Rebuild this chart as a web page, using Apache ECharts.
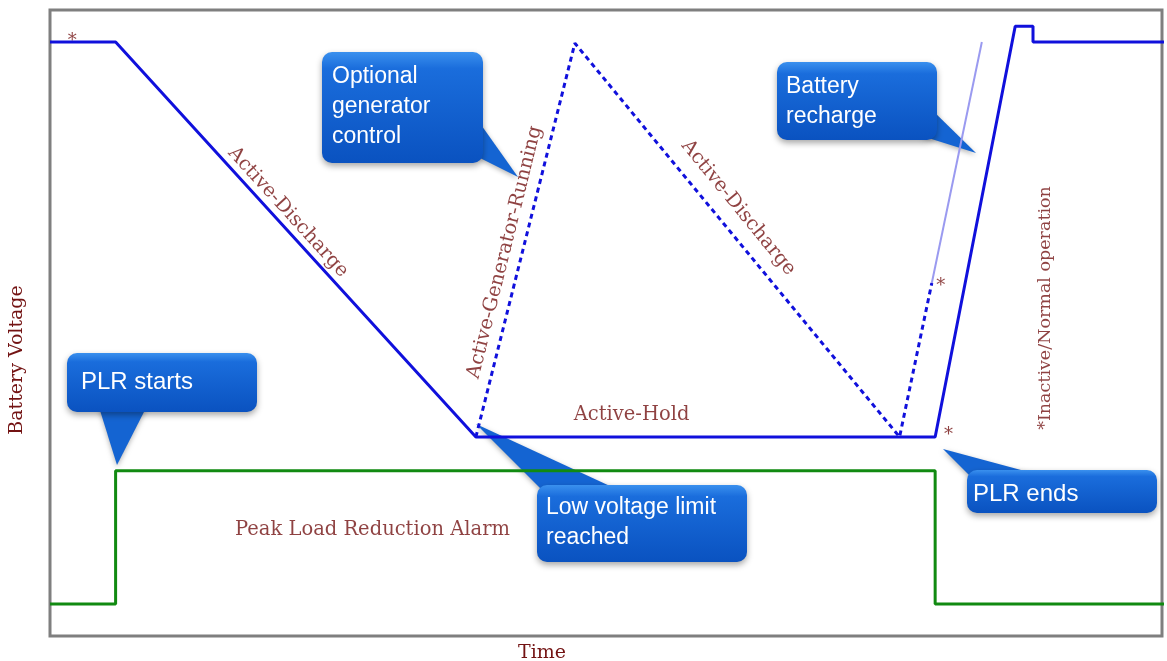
<!DOCTYPE html>
<html>
<head>
    <meta charset="utf-8">
    <title>PLR battery voltage</title>
    <script src="https://cdn.jsdelivr.net/npm/echarts@6/dist/echarts.min.js"></script>
    <style>
        html, body { margin: 0; padding: 0; background: #fff; }
        #main { width: 1167px; height: 661px; }
    </style>
</head>
<body>
<div id="main"></div>
<script type="text/javascript">
    /* data: time 0-100, battery voltage 0-100 (schematic units) */
    var voltagePath = [[0, 94.9], [5.9, 94.9], [38.3, 31.8], [79.6, 31.8], [86.8, 97.4], [88.4, 97.4], [88.4, 94.9], [100.4, 94.9]];
    var generatorPath = [[38.3, 31.8], [47.2, 94.7], [76.4, 31.8], [79.3, 56.4]];
    var rechargeGuide = [[79.3, 56.4], [83.8, 94.9]];
    var alarmPath = [[0, 5.1], [5.9, 5.1], [5.9, 26.4], [79.6, 26.4], [79.6, 5.1], [100.4, 5.1]];
    var starPoints = [[2.0, 95.0], [80.1, 55.9], [80.8, 32.0]];

    var stateNames = ['Active-Discharge', 'Active-Generator-Running', 'Active-Discharge', '*Inactive/Normal operation', 'Active-Hold', 'Peak Load Reduction Alarm'];
    var stateAnchors = [[21.4, 67.7], [40.9, 61.3], [61.9, 68.4], [89.5, 52.4], [52.3, 35.3], [29.0, 16.9]];
    var stateAngles = [-47.7, 76, -50.7, 90, 0, 0];
    var stateSizes = [19.5, 19.5, 19.5, 17.5, 19.5, 19.5];

    var serif = '"DejaVu Serif", serif';
    var darkRed = '#731313';

    var labelData = stateNames.map(function (name, i) {
        return {
            name: name,
            value: stateAnchors[i],
            label: { rotate: stateAngles[i], fontSize: stateSizes[i] }
        };
    });

    // callout boxes (blue bubbles)
    function callout(x, y, w, h, tail, text, fontSize, lineHeight, padX, padY) {
        return {
            type: 'group',
            children: [
                {
                    type: 'polygon',
                    shape: { points: tail },
                    style: { fill: '#1464d2', shadowBlur: 5, shadowColor: 'rgba(0,0,0,0.3)', shadowOffsetY: 2 }
                },
                {
                    type: 'rect',
                    shape: { x: x, y: y, width: w, height: h, r: 10 },
                    style: {
                        fill: new echarts.graphic.LinearGradient(0, 0, 0, 1, [
                            { offset: 0, color: '#3a90ee' },
                            { offset: 0.15, color: '#1a6ddc' },
                            { offset: 1, color: '#0a52c0' }
                        ]),
                        shadowBlur: 6, shadowColor: 'rgba(0,0,0,0.35)', shadowOffsetY: 3
                    }
                },
                {
                    type: 'text',
                    x: x + padX,
                    y: y + padY,
                    style: {
                        text: text,
                        fill: '#ffffff',
                        fontFamily: '"Liberation Sans", Arial, sans-serif',
                        fontSize: fontSize,
                        lineHeight: lineHeight,
                        verticalAlign: 'top'
                    }
                }
            ]
        };
    }

    var myChart = echarts.init(document.getElementById('main'));

    myChart.setOption({
        backgroundColor: '#fff',
        animation: false,
        grid: {
            left: 50, top: 10, right: 5, bottom: 25,
            outerBoundsMode: 'none',
            containLabel: false,
            show: true,
            borderColor: '#7f7f7f',
            borderWidth: 3,
            backgroundColor: 'transparent'
        },
        xAxis: {
            type: 'value',
            min: 0, max: 100,
            name: 'Time',
            nameLocation: 'middle',
            nameGap: 8,
            nameTextStyle: { fontFamily: serif, fontSize: 19, color: darkRed, padding: [0, 128, 0, 0] },
            axisLine: { show: false },
            axisTick: { show: false },
            axisLabel: { show: false },
            splitLine: { show: false }
        },
        yAxis: {
            type: 'value',
            min: 0, max: 100,
            name: 'Battery Voltage',
            nameLocation: 'middle',
            nameGap: 23,
            nameTextStyle: { fontFamily: serif, fontSize: 19, color: darkRed, padding: [0, 74, 0, 0] },
            axisLine: { show: false },
            axisTick: { show: false },
            axisLabel: { show: false },
            splitLine: { show: false }
        },
        series: [
            {
                name: 'Alarm',
                type: 'line',
                data: alarmPath,
                symbol: 'none',
                clip: false,
                lineStyle: { color: '#118a11', width: 3 }
            },
            {
                name: 'Recharge guide',
                type: 'line',
                data: rechargeGuide,
                symbol: 'none',
                lineStyle: { color: '#9a9af0', width: 2 }
            },
            {
                name: 'Generator',
                type: 'line',
                data: generatorPath,
                symbol: 'none',
                lineStyle: { color: '#1010dc', width: 3, type: [5, 4] }
            },
            {
                name: 'Voltage',
                type: 'line',
                data: voltagePath,
                symbol: 'none',
                clip: false,
                lineStyle: { color: '#1010dc', width: 3 }
            },
            {
                name: 'Stars',
                type: 'scatter',
                data: starPoints,
                symbolSize: 1,
                itemStyle: { color: 'transparent' },
                label: {
                    show: true,
                    position: 'inside',
                    formatter: '*',
                    fontFamily: serif,
                    fontSize: 18,
                    color: darkRed
                }
            },
            {
                name: 'States',
                type: 'scatter',
                data: labelData,
                symbolSize: 1,
                itemStyle: { color: 'transparent' },
                label: {
                    show: true,
                    position: 'inside',
                    align: 'center',
                    verticalAlign: 'middle',
                    formatter: '{b}',
                    fontFamily: serif,
                    fontSize: 19.5,
                    color: darkRed
                }
            }
        ],
        graphic: [
            callout(322, 52, 161, 111, [[472, 112], [518, 177], [468, 152]], 'Optional\ngenerator\ncontrol', 23, 30, 10, 10),
            callout(777, 62, 160, 78, [[928, 106], [976, 153], [922, 136]], 'Battery\nrecharge', 23, 30, 9, 10),
            callout(67, 353, 190, 59, [[98, 404], [117, 465], [148, 404]], 'PLR starts', 24, 30, 14, 14),
            callout(537, 485, 210, 77, [[476, 424], [625, 493], [545, 493]], 'Low voltage limit\nreached', 23, 30, 9, 8),
            callout(967, 470, 190, 43, [[943, 449], [1047, 477], [975, 481]], 'PLR ends', 24, 30, 6, 9)
        ]
    });
</script>
</body>
</html>
